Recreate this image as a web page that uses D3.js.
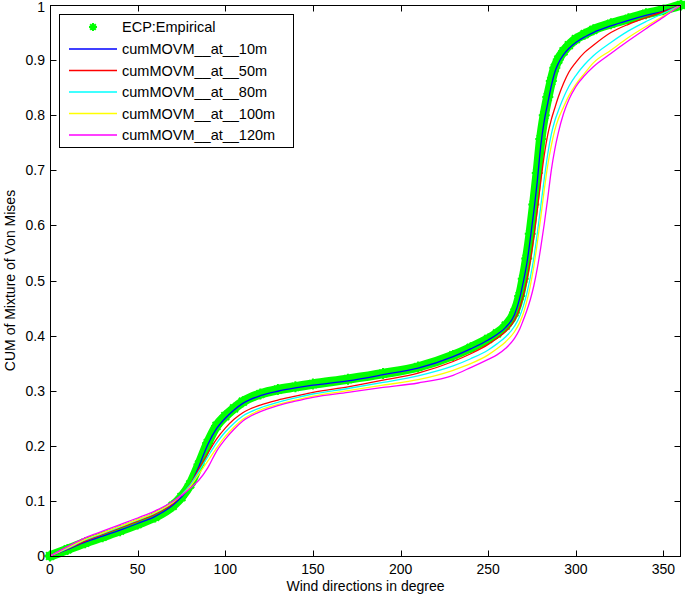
<!DOCTYPE html>
<html>
<head>
<meta charset="utf-8">
<script src="https://cdn.jsdelivr.net/npm/d3@7"></script>
<style>
  html, body { margin: 0; padding: 0; background: #fff; }
  svg { display: block; font-family: "Liberation Sans", Arial, Helvetica, sans-serif; }
</style>
</head>
<body>
<svg id="chart" width="685" height="597"></svg>
<script>
// ---------------- data ----------------
const deg = [0,10,20,30,40,50,60,70,75,80,85,90,95,100,105,110,120,130,140,150,170,190,210,230,240,250,255,260,265,268,270,272,274,276,278,280,282,284,286,288,290,293,296,300,305,310,320,330,340,350,360];

const ecpEmpirical = [0,0.012,0.024,0.035,0.046,0.058,0.071,0.091,0.107,0.130,0.166,0.205,0.236,0.254,0.268,0.280,0.294,0.302,0.307,0.312,0.321,0.331,0.343,0.364,0.378,0.394,0.404,0.418,0.442,0.472,0.503,0.540,0.585,0.638,0.695,0.757,0.800,0.833,0.862,0.886,0.901,0.916,0.927,0.938,0.947,0.955,0.966,0.975,0.984,0.991,1.0];

const cum10m = [0,0.012,0.025,0.036,0.047,0.059,0.072,0.092,0.107,0.128,0.163,0.202,0.231,0.250,0.265,0.277,0.291,0.299,0.305,0.310,0.318,0.329,0.341,0.362,0.376,0.392,0.402,0.415,0.438,0.468,0.497,0.530,0.575,0.625,0.680,0.745,0.790,0.822,0.853,0.878,0.894,0.910,0.921,0.932,0.942,0.950,0.962,0.972,0.981,0.989,1.0];

const cum50m = [0,0.013,0.027,0.039,0.051,0.063,0.076,0.095,0.110,0.130,0.158,0.186,0.212,0.232,0.248,0.260,0.274,0.283,0.290,0.297,0.307,0.319,0.332,0.353,0.367,0.384,0.395,0.408,0.428,0.450,0.472,0.500,0.535,0.578,0.628,0.680,0.728,0.765,0.792,0.813,0.833,0.858,0.878,0.896,0.914,0.927,0.950,0.965,0.977,0.988,1.0];

const cum80m = [0,0.014,0.029,0.041,0.053,0.065,0.078,0.097,0.111,0.129,0.154,0.180,0.205,0.225,0.241,0.254,0.269,0.279,0.287,0.294,0.304,0.315,0.327,0.345,0.358,0.374,0.385,0.398,0.417,0.435,0.453,0.476,0.505,0.540,0.585,0.635,0.685,0.730,0.765,0.790,0.808,0.832,0.852,0.872,0.892,0.908,0.932,0.953,0.970,0.985,1.0];

const cum100m = [0,0.015,0.030,0.042,0.054,0.066,0.079,0.097,0.110,0.126,0.149,0.172,0.196,0.217,0.234,0.248,0.265,0.275,0.283,0.290,0.300,0.310,0.320,0.337,0.349,0.365,0.376,0.389,0.407,0.424,0.440,0.462,0.490,0.525,0.568,0.615,0.665,0.710,0.745,0.773,0.793,0.815,0.835,0.856,0.876,0.895,0.918,0.941,0.961,0.980,1.0];

const cum120m = [0,0.017,0.033,0.045,0.057,0.069,0.082,0.099,0.110,0.123,0.138,0.160,0.190,0.212,0.230,0.245,0.262,0.273,0.281,0.288,0.297,0.306,0.314,0.328,0.342,0.357,0.365,0.377,0.395,0.412,0.428,0.445,0.465,0.490,0.522,0.560,0.603,0.650,0.700,0.738,0.768,0.803,0.828,0.852,0.872,0.888,0.912,0.935,0.957,0.978,1.0];

const modelSeries = [cum10m, cum50m, cum80m, cum100m, cum120m];
const seriesNames = ["cumMOVM__at__10m","cumMOVM__at__50m","cumMOVM__at__80m","cumMOVM__at__100m","cumMOVM__at__120m"];
const seriesColors = ["#0000ff","#ff0000","#00ffff","#ffff00","#ff00ff"];
const empiricalName = "ECP:Empirical";

const xTicks = [0,50,100,150,200,250,300,350];
const yTicks = [0,0.1,0.2,0.3,0.4,0.5,0.6,0.7,0.8,0.9,1];
const yTickLabels = ["0","0.1","0.2","0.3","0.4","0.5","0.6","0.7","0.8","0.9","1"];
const xTitle = "Wind directions in degree";
const yTitle = "CUM of Mixture of Von Mises";

// ---------------- layout ----------------
const L = 50, R = 681, T = 5, B = 556;
const svg = d3.select("#chart");
const x = d3.scaleLinear().domain([0, 360]).range([L, R]);
const y = d3.scaleLinear().domain([0, 1]).range([B, T]);
const green = "#00ff00";

// star (asterisk) marker path
function starPath(cx, cy, r) {
  const d = r * 0.7071;
  return `M${cx - r},${cy}L${cx + r},${cy}M${cx},${cy - r}L${cx},${cy + r}` +
         `M${cx - d},${cy - d}L${cx + d},${cy + d}M${cx - d},${cy + d}L${cx + d},${cy - d}`;
}

const line = d3.line().x((d) => x(d[0])).y((d) => y(d[1])).curve(d3.curveMonotoneX);

// empirical band (thick green) + star markers
const empPts = deg.map((d, i) => [d, ecpEmpirical[i]]);
svg.append("path").datum(empPts).attr("d", line)
  .attr("fill", "none").attr("stroke", green).attr("stroke-width", 9.5)
  .attr("stroke-linejoin", "round").attr("stroke-linecap", "round");
svg.append("g").selectAll("path").data(empPts).join("path")
  .attr("d", (d) => starPath(x(d[0]), y(d[1]), 5.5))
  .attr("stroke", green).attr("stroke-width", 2).attr("fill", "none");

// model lines
modelSeries.forEach((vals, k) => {
  const pts = deg.map((d, i) => [d, vals[i]]);
  svg.append("path").datum(pts).attr("d", line)
    .attr("fill", "none").attr("stroke", seriesColors[k]).attr("stroke-width", 1.3);
});

// ---------------- axes (box with inward ticks) ----------------
const tickLen = 6;
const axG = svg.append("g").attr("stroke", "#000").attr("stroke-width", 1);
axG.append("rect").attr("x", L + 0.5).attr("y", T + 0.5)
  .attr("width", R - L - 1).attr("height", B - T).attr("fill", "none");

xTicks.forEach((t) => {
  const px = Math.round(x(t)) + 0.5;
  axG.append("line").attr("x1", px).attr("x2", px).attr("y1", B + 0.5).attr("y2", B + 0.5 - tickLen);
  axG.append("line").attr("x1", px).attr("x2", px).attr("y1", T + 0.5).attr("y2", T + 0.5 + tickLen);
});
yTicks.forEach((t) => {
  const py = Math.round(y(t)) + 0.5;
  axG.append("line").attr("x1", L + 0.5).attr("x2", L + 0.5 + tickLen).attr("y1", py).attr("y2", py);
  axG.append("line").attr("x1", R - 0.5).attr("x2", R - 0.5 - tickLen).attr("y1", py).attr("y2", py);
});

const fs = 14;
svg.append("g").selectAll("text").data(xTicks).join("text")
  .attr("x", (d) => x(d)).attr("y", B + 18)
  .attr("text-anchor", "middle").attr("font-size", fs).attr("fill", "#000")
  .text((d) => d);

svg.append("g").selectAll("text").data(yTicks).join("text")
  .attr("x", L - 5).attr("y", (d) => Math.max(y(d) + 5, 12))
  .attr("text-anchor", "end").attr("font-size", fs).attr("fill", "#000")
  .text((d, i) => yTickLabels[i]);

svg.append("text").attr("x", (L + R) / 2).attr("y", B + 35)
  .attr("text-anchor", "middle").attr("font-size", fs).attr("fill", "#000").text(xTitle);

svg.append("text").attr("transform", `translate(15,${(T + B) / 2}) rotate(-90)`)
  .attr("text-anchor", "middle").attr("font-size", fs).attr("fill", "#000").text(yTitle);

// ---------------- legend ----------------
const lg = svg.append("g");
lg.append("rect").attr("x", 59.5).attr("y", 14.5).attr("width", 234).attr("height", 133)
  .attr("fill", "#fff").attr("stroke", "#000").attr("stroke-width", 1);
const rowY = [27, 49, 70.5, 92, 113.5, 135];
lg.append("path").attr("d", starPath(93, rowY[0], 4)).attr("stroke", green)
  .attr("stroke-width", 2).attr("fill", "none");
lg.append("text").attr("x", 122).attr("y", rowY[0] + 5).attr("font-size", 14.5)
  .attr("fill", "#000").text(empiricalName);
seriesNames.forEach((name, k) => {
  lg.append("line").attr("x1", 69).attr("x2", 117).attr("y1", rowY[k + 1]).attr("y2", rowY[k + 1])
    .attr("stroke", seriesColors[k]).attr("stroke-width", 1.5);
  lg.append("text").attr("x", 122).attr("y", rowY[k + 1] + 5).attr("font-size", 14.5)
    .attr("fill", "#000").text(name);
});
</script>
</body>
</html>
